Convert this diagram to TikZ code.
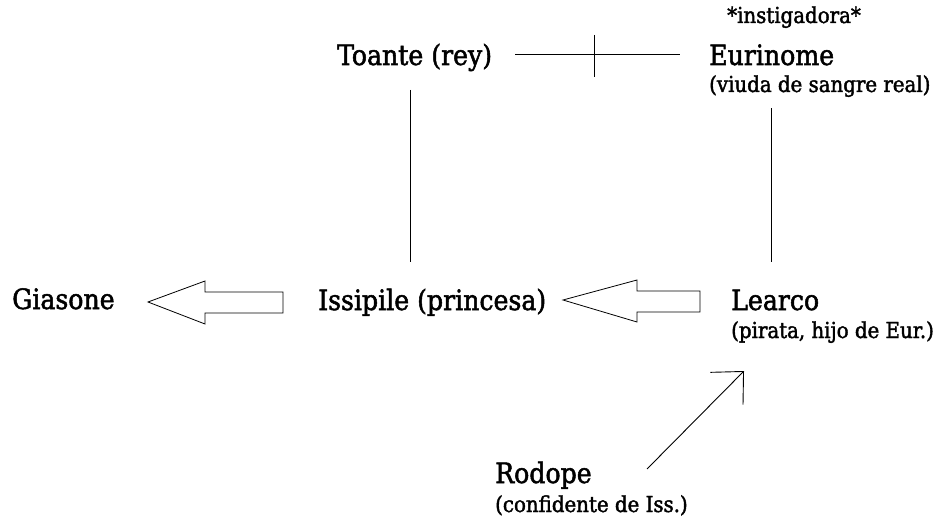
\documentclass[tikz,border=0pt]{standalone}
\usepackage{fontspec}
\setmainfont{DejaVu Serif Condensed}[FakeBold=1.8]
\usetikzlibrary{arrows.meta}
\begin{document}
\begin{tikzpicture}[x=1pt,y=-1pt,
  person/.style={anchor=base west,inner sep=0pt,font=\fontsize{28}{32}\selectfont},
  remark/.style={anchor=base west,inner sep=0pt,font=\fontsize{22}{26}\selectfont},
  link/.style={line width=1pt,black},
  bigarrow/.style={draw=black,line width=0.8pt,fill=white},
  barb/.style={line width=0.9pt,-{Straight Barb[length=24pt,width=46pt,line width=0.9pt]}}]
  \useasboundingbox (0,0) rectangle (940,519);
  % characters
  \node[person] (toante) at (337,65) {Toante (rey)};
  \node[person] (eurinome) at (709,65) {Eurinome};
  \node[remark] (eurinomeR) at (709,92) {(viuda de sangre real)};
  \node[remark] (instig) at (727,23) {*instigadora*};
  \node[person] (giasone) at (12,309) {Giasone};
  \node[person] (issipile) at (318,310) {Issipile (princesa)};
  \node[person] (learco) at (731,310) {Learco};
  \node[remark] (learcoR) at (731,338) {(pirata, hijo de Eur.)};
  \node[person] (rodope) at (495,483) {Rodope};
  \node[remark] (rodopeR) at (495,512) {(confidente de Iss.)};
  % marriage line with cross tick
  \coordinate (m1) at (515,55);
  \coordinate (m2) at (680,55);
  \coordinate (t1) at (594,35);
  \coordinate (t2) at (594,77);
  \draw[link] (m1) -- (m2);
  \draw[link] (t1) -- (t2);
  % descent lines
  \coordinate (d1a) at (410,90);
  \coordinate (d1b) at (410,262);
  \coordinate (d2a) at (771,108);
  \coordinate (d2b) at (771,262);
  \draw[link] (d1a) -- (d1b);
  \draw[link] (d2a) -- (d2b);
  % block arrows
  \draw[bigarrow] (148,302) -- (205,281) -- (205,292) -- (283,292) -- (283,313)
    -- (205,313) -- (205,324) -- cycle;
  \draw[bigarrow] (563,300) -- (637,280) -- (637,291) -- (700,291) -- (700,312)
    -- (637,312) -- (637,322) -- cycle;
  % Rodope points to Learco
  \coordinate (r1) at (647,469);
  \coordinate (r2) at (744,371);
  \draw[barb] (r1) -- (r2);
\end{tikzpicture}
\end{document}
